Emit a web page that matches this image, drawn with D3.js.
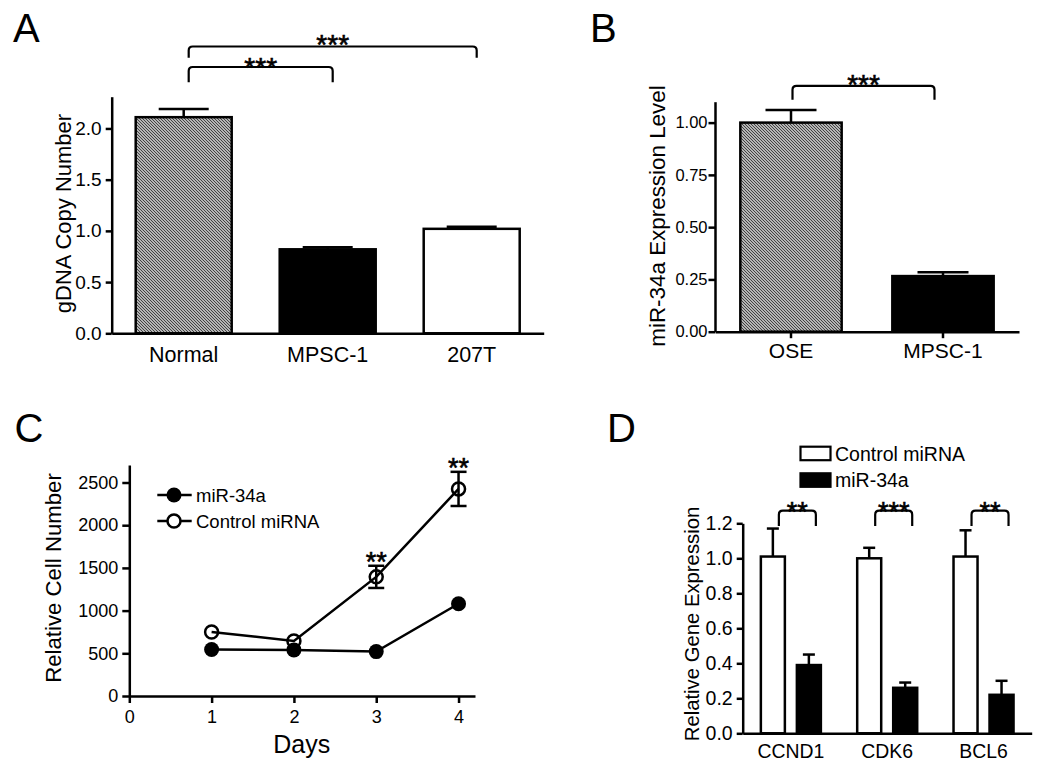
<!DOCTYPE html>
<html>
<head>
<meta charset="utf-8">
<script src="https://cdn.jsdelivr.net/npm/d3@7"></script>
<style>
  html, body { margin: 0; padding: 0; background: #fff; }
  svg { display: block; }
  text { font-family: "Liberation Sans", Arial, sans-serif; fill: #000; }
</style>
</head>
<body>
<svg id="chart" width="1050" height="777"></svg>
<script>
// ---------- Data ----------
const catA = ["Normal", "MPSC-1", "207T"];
const valA = [2.11, 0.82, 1.02];
const errA = [0.08, 0.02, 0.02];
const fillA = ["hatch", "black", "white"];
const ticksA = [0, 0.5, 1.0, 1.5, 2.0];

const catB = ["OSE", "MPSC-1"];
const valB = [1.00, 0.266];
const errB = [0.06, 0.018];
const fillB = ["hatch", "black"];
const ticksB = [0, 0.25, 0.5, 0.75, 1.0];

const days = [1, 2, 3, 4];
const mir34a = [545, 540, 520, 1080];
const mir34aErr = [0, 0, 0, 0];
const control = [750, 645, 1395, 2425];
const controlErr = [0, 0, 130, 200];
const ticksCy = [0, 500, 1000, 1500, 2000, 2500];
const ticksCx = [0, 1, 2, 3, 4];
const sigC = ["", "", "**", "**"];

const genes = ["CCND1", "CDK6", "BCL6"];
const seriesD = ["Control miRNA", "miR-34a"];
const ctrlD = [1.01, 1.00, 1.01];
const ctrlDErr = [0.16, 0.06, 0.15];
const mirD = [0.39, 0.26, 0.22];
const mirDErr = [0.06, 0.03, 0.08];
const sigD = ["**", "***", "**"];
const ticksD = [0, 0.2, 0.4, 0.6, 0.8, 1.0, 1.2];

// ---------- Setup ----------
const svg = d3.select("#chart");
const FONT = "'Liberation Sans', Arial, sans-serif";
const LW = 2.5;

const defs = svg.append("defs");
const pat = defs.append("pattern").attr("id", "hatch")
  .attr("patternUnits", "userSpaceOnUse").attr("width", 3).attr("height", 3);
pat.append("rect").attr("width", 3).attr("height", 3).attr("fill", "#e6e6e6");
pat.append("path").attr("d", "M0,0L3,3M-1,2L1,4M2,-1L4,1")
  .attr("stroke", "#3a3a3a").attr("stroke-width", 1.1);

function fillOf(f) { return f === "hatch" ? "url(#hatch)" : (f === "black" ? "#000" : "#fff"); }

function styleAxis(g, fs) {
  g.selectAll("path.domain").attr("stroke", "#000").attr("stroke-width", LW);
  g.selectAll(".tick line").attr("stroke", "#000").attr("stroke-width", LW);
  g.selectAll(".tick text").attr("font-size", fs).attr("font-family", FONT).attr("fill", "#000");
}

function bracket(g, x1, x2, yTop, yBot, r) {
  const p = `M${x1},${yBot} L${x1},${yTop + r} Q${x1},${yTop} ${x1 + r},${yTop} L${x2 - r},${yTop} Q${x2},${yTop} ${x2},${yTop + r} L${x2},${yBot}`;
  g.append("path").attr("d", p).attr("fill", "none").attr("stroke", "#000").attr("stroke-width", 2.2);
}

function stars(g, x, baseline, s, fs) {
  g.append("text").attr("x", x).attr("y", baseline).attr("text-anchor", "middle")
    .attr("font-size", fs).attr("stroke", "#000").attr("stroke-width", 0.6).text(s);
}

function panelLabel(x, y, s) {
  svg.append("text").attr("x", x).attr("y", y).attr("font-size", 40).text(s);
}

function yTitle(x, y, s, fs) {
  svg.append("text").attr("transform", `translate(${x},${y}) rotate(-90)`)
    .attr("text-anchor", "middle").attr("dy", "0.35em").attr("font-size", fs).text(s);
}

function errUp(g, cx, yVal, yErr, capW) {
  g.append("line").attr("x1", cx).attr("x2", cx).attr("y1", yVal).attr("y2", yErr)
    .attr("stroke", "#000").attr("stroke-width", LW);
  g.append("line").attr("x1", cx - capW / 2).attr("x2", cx + capW / 2).attr("y1", yErr).attr("y2", yErr)
    .attr("stroke", "#000").attr("stroke-width", LW);
}

// ---------- Panel A ----------
{
  const g = svg.append("g");
  const x = d3.scaleBand().domain(catA).range([111.7, 543.7]).paddingInner(1 / 3).paddingOuter(1 / 6);
  const y = d3.scaleLinear().domain([0, 2.31]).range([333.3, 96.7]);
  const data = catA.map((c, i) => ({ c, v: valA[i], e: errA[i], f: fillA[i] }));
  data.forEach(d => {
    const cx = x(d.c) + x.bandwidth() / 2;
    errUp(g, cx, y(d.v), y(d.v + d.e), 50);
  });
  g.selectAll("rect.bar").data(data).join("rect").attr("class", "bar")
    .attr("x", d => x(d.c)).attr("width", x.bandwidth())
    .attr("y", d => y(d.v)).attr("height", d => y(0) - y(d.v))
    .attr("fill", d => fillOf(d.f)).attr("stroke", "#000").attr("stroke-width", LW);

  const ya = g.append("g").attr("transform", "translate(111.7,0)")
    .call(d3.axisLeft(y).tickValues(ticksA).tickFormat(d3.format(".1f")).tickSize(6).tickSizeOuter(0).tickPadding(4));
  styleAxis(ya, 19);
  const xa = g.append("g").attr("transform", "translate(0,333.3)")
    .call(d3.axisBottom(x).tickSize(0).tickSizeOuter(0));
  styleAxis(xa, 21.5);
  xa.selectAll(".tick text").attr("dy", null).attr("y", 28.3);

  const c0 = x(catA[0]) + x.bandwidth() / 2 + 5;
  const c1 = x(catA[1]) + x.bandwidth() / 2 + 5;
  const c2 = x(catA[2]) + x.bandwidth() / 2 + 5;
  bracket(g, c0, c2, y(2.80), y(2.69), 4);
  bracket(g, c0, c1, y(2.60), y(2.45), 4);
  stars(g, (c0 + c2) / 2, y(2.80) + 7, "***", 28);
  stars(g, (c0 + c1) / 2, y(2.60) + 10, "***", 28);

  panelLabel(13, 41.7, "A");
  yTitle(63.3, 213.5, "gDNA Copy Number", 22);
}

// ---------- Panel B ----------
{
  const g = svg.append("g");
  const x = d3.scaleBand().domain(catB).range([715, 1019]).paddingInner(1 / 3).paddingOuter(1 / 6);
  const y = d3.scaleLinear().domain([0, 1.1]).range([331.7, 101.7]);
  const data = catB.map((c, i) => ({ c, v: valB[i], e: errB[i], f: fillB[i] }));
  data.forEach(d => {
    const cx = x(d.c) + x.bandwidth() / 2;
    errUp(g, cx, y(d.v), y(d.v + d.e), 51);
  });
  g.selectAll("rect.bar").data(data).join("rect").attr("class", "bar")
    .attr("x", d => x(d.c)).attr("width", x.bandwidth())
    .attr("y", d => y(d.v)).attr("height", d => y(0) - y(d.v))
    .attr("fill", d => fillOf(d.f)).attr("stroke", "#000").attr("stroke-width", LW);

  const ya = g.append("g").attr("transform", "translate(715,0)")
    .call(d3.axisLeft(y).tickValues(ticksB).tickFormat(d3.format(".2f")).tickSize(6.5).tickSizeOuter(0).tickPadding(1));
  styleAxis(ya, 16.5);
  const xa = g.append("g").attr("transform", "translate(0,331.7)")
    .call(d3.axisBottom(x).tickSize(6.5).tickSizeOuter(0));
  styleAxis(xa, 21);
  xa.selectAll(".tick text").attr("dy", null).attr("y", 26.7);

  const c0 = x(catB[0]) + x.bandwidth() / 2 + 1.5;
  const c1 = x(catB[1]) + x.bandwidth() / 2 - 8.5;
  bracket(g, c0, c1, y(1.176), y(1.109), 4);
  stars(g, (c0 + c1) / 2, y(1.176) + 8.5, "***", 28);

  panelLabel(590, 41.7, "B");
  yTitle(656.7, 216, "miR-34a Expression Level", 22.4);
}

// ---------- Panel C ----------
{
  const g = svg.append("g");
  const x = d3.scaleLinear().domain([0, 4.2]).range([129.3, 475]);
  const y = d3.scaleLinear().domain([0, 2705]).range([696, 465]);

  const line = d3.line().x(d => x(d.day)).y(d => y(d.v));
  const sA = days.map((d, i) => ({ day: d, v: mir34a[i], e: mir34aErr[i] }));
  const sC = days.map((d, i) => ({ day: d, v: control[i], e: controlErr[i], s: sigC[i] }));

  g.append("path").datum(sA).attr("d", line).attr("fill", "none").attr("stroke", "#000").attr("stroke-width", LW);
  g.append("path").datum(sC).attr("d", line).attr("fill", "none").attr("stroke", "#000").attr("stroke-width", LW);

  sC.forEach(d => {
    if (d.e > 0) {
      const cx = x(d.day);
      g.append("line").attr("x1", cx).attr("x2", cx).attr("y1", y(d.v - d.e)).attr("y2", y(d.v + d.e))
        .attr("stroke", "#000").attr("stroke-width", LW);
      [d.v - d.e, d.v + d.e].forEach(v => {
        g.append("line").attr("x1", cx - 8).attr("x2", cx + 8).attr("y1", y(v)).attr("y2", y(v))
          .attr("stroke", "#000").attr("stroke-width", LW);
      });
    }
    if (d.s) stars(g, x(d.day), y(d.v + d.e) + 5, d.s, 27);
  });

  g.selectAll("circle.a").data(sA).join("circle").attr("class", "a")
    .attr("cx", d => x(d.day)).attr("cy", d => y(d.v)).attr("r", 7.5).attr("fill", "#000");
  g.selectAll("circle.c").data(sC).join("circle").attr("class", "c")
    .attr("cx", d => x(d.day)).attr("cy", d => y(d.v)).attr("r", 6.5)
    .attr("fill", "none").attr("stroke", "#000").attr("stroke-width", 2.5);

  const ya = g.append("g").attr("transform", "translate(129.3,0)")
    .call(d3.axisLeft(y).tickValues(ticksCy).tickFormat(d3.format("d")).tickSize(7).tickSizeOuter(0).tickPadding(4));
  styleAxis(ya, 18);
  const xa = g.append("g").attr("transform", "translate(0,696)")
    .call(d3.axisBottom(x).tickValues(ticksCx).tickFormat(d3.format("d")).tickSize(7).tickSizeOuter(0));
  styleAxis(xa, 18);
  xa.selectAll(".tick text").attr("dy", null).attr("y", 27.3);

  // legend
  const leg = [{ label: "miR-34a", open: false, y: 495 }, { label: "Control miRNA", open: true, y: 521 }];
  leg.forEach(l => {
    g.append("line").attr("x1", 157.3).attr("x2", 191.7).attr("y1", l.y).attr("y2", l.y)
      .attr("stroke", "#000").attr("stroke-width", LW);
    g.append("circle").attr("cx", 174).attr("cy", l.y).attr("r", l.open ? 6.5 : 7.5)
      .attr("fill", l.open ? "#fff" : "#000").attr("stroke", "#000").attr("stroke-width", l.open ? 2.5 : 0);
    g.append("text").attr("x", 196).attr("y", l.y + 6.6).attr("font-size", 18.5).text(l.label);
  });

  svg.append("text").attr("x", 301.7).attr("y", 753).attr("text-anchor", "middle").attr("font-size", 25).text("Days");
  panelLabel(14.5, 441.7, "C");
  yTitle(53.3, 578, "Relative Cell Number", 22.2);
}

// ---------- Panel D ----------
{
  const g = svg.append("g");
  const x0 = d3.scaleBand().domain(genes).range([742.7, 1031.7]).paddingInner(0.377).paddingOuter(0.1885);
  const x1 = d3.scaleBand().domain(seriesD).range([0, x0.bandwidth()]).paddingInner(1 / 3).paddingOuter(0);
  const y = d3.scaleLinear().domain([0, 1.2]).range([733.3, 523.3]);

  const data = [];
  genes.forEach((gname, i) => {
    data.push({ g: gname, s: seriesD[0], v: ctrlD[i], e: ctrlDErr[i], fill: "#fff" });
    data.push({ g: gname, s: seriesD[1], v: mirD[i], e: mirDErr[i], fill: "#000" });
  });
  data.forEach(d => {
    const cx = x0(d.g) + x1(d.s) + x1.bandwidth() / 2;
    errUp(g, cx, y(d.v), y(d.v + d.e), 12);
  });
  g.selectAll("rect.bar").data(data).join("rect").attr("class", "bar")
    .attr("x", d => x0(d.g) + x1(d.s)).attr("width", x1.bandwidth())
    .attr("y", d => y(d.v)).attr("height", d => y(0) - y(d.v))
    .attr("fill", d => d.fill).attr("stroke", "#000").attr("stroke-width", LW);

  const ya = g.append("g").attr("transform", "translate(742.7,0)")
    .call(d3.axisLeft(y).tickValues(ticksD).tickFormat(d3.format(".1f")).tickSize(6).tickSizeOuter(0).tickPadding(4));
  styleAxis(ya, 19.5);
  const xa = g.append("g").attr("transform", "translate(0,733.3)")
    .call(d3.axisBottom(x0).tickSize(0).tickSizeOuter(0));
  styleAxis(xa, 19.4);
  xa.selectAll(".tick text").attr("dy", null).attr("y", 25);

  genes.forEach((gname, i) => {
    const a = x0(gname) + x1(seriesD[0]) + x1.bandwidth() / 2 + 6;
    const b = x0(gname) + x1(seriesD[1]) + x1.bandwidth() / 2 + 7;
    bracket(g, a, b, y(1.272), y(1.185), 4);
    stars(g, (a + b) / 2, y(1.272) + 10, sigD[i], 27);
  });

  // legend
  const leg = [{ label: "Control miRNA", fill: "#fff", y: 446.7 }, { label: "miR-34a", fill: "#000", y: 473.3 }];
  leg.forEach(l => {
    g.append("rect").attr("x", 800.5).attr("y", l.y).attr("width", 30).attr("height", 13.5)
      .attr("fill", l.fill).attr("stroke", "#000").attr("stroke-width", 2.2);
    g.append("text").attr("x", 835).attr("y", l.y + 14).attr("font-size", 19.5).text(l.label);
  });

  panelLabel(607, 441.7, "D");
  yTitle(691.7, 624, "Relative Gene Expression", 20.3);
}
</script>
</body>
</html>
